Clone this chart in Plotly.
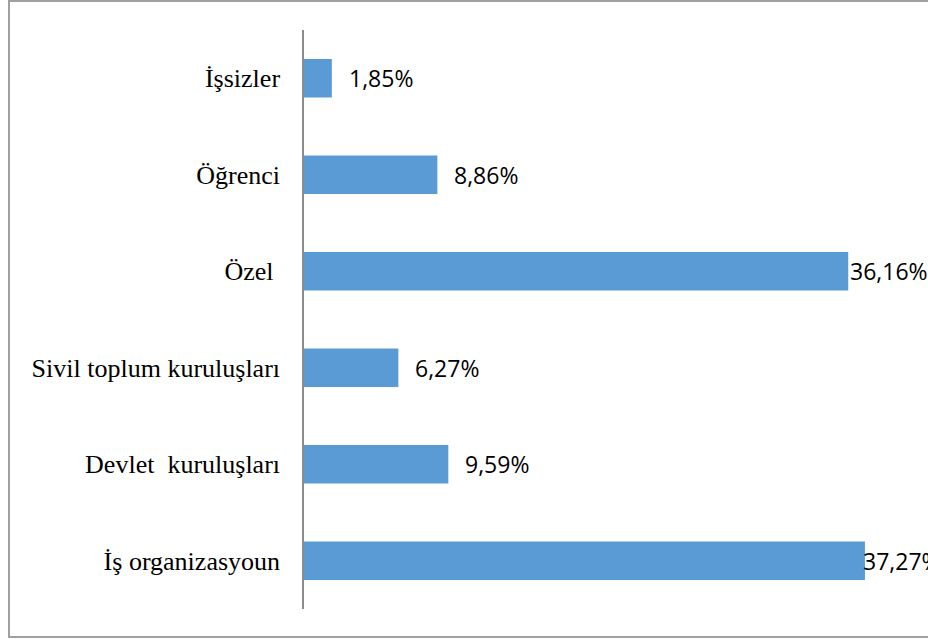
import plotly.graph_objects as go

# Kategoriler (aşağıdan yukarıya) ve yüzdeler
categories = ["İş organizasyoun", "Devlet  kuruluşları", "Sivil toplum kuruluşları",
              "Özel ", "Öğrenci", "İşsizler"]
values = [37.27, 9.59, 6.27, 36.16, 8.86, 1.85]
labels = ["37,27%", "9,59%", "6,27%", "36,16%", "8,86%", "1,85%"]

W, H = 928, 639
L, R, T, B = 304, 0, 30, 30

fig = go.Figure(go.Bar(
    x=values, y=categories, orientation="h",
    marker=dict(color="#5b9bd5", line=dict(width=0)),
    width=0.4, hoverinfo="skip",
))

# Değer etiketleri (uzun çubuklarda Excel gibi sola kaydırılmış)
for v, lab, c in zip(values, labels, categories):
    shift = 15 if v < 30 else (0 if v < 37 else -4)
    fig.add_annotation(x=v, y=c, text=lab, showarrow=False, xanchor="left",
                       xshift=shift, font=dict(family="Open Sans", size=23, color="#000"))

fig.update_layout(
    width=W, height=H,
    margin=dict(l=L, r=R, t=T, b=B),
    paper_bgcolor="white", plot_bgcolor="white",
    showlegend=False,
    xaxis=dict(range=[0, 41.46], visible=False, showgrid=False, zeroline=False),
    yaxis=dict(showline=True, linecolor="#8c8c8c", linewidth=1.5, ticks="",
               ticklabelstandoff=17, showgrid=False,
               tickfont=dict(family="Liberation Serif", size=26, color="#000")),
)

# Çerçeve
ph = H - T - B
fig.add_shape(type="rect", xref="paper", yref="paper",
              x0=(9 - L) / (W - L - R), x1=1.05,
              y0=(H - B - 637) / ph, y1=(H - B - 1) / ph,
              line=dict(color="#a0a0a0", width=2), layer="below")

fig.write_html("out.html", config={"displayModeBar": False},
               post_script="document.body.style.margin='0';")
